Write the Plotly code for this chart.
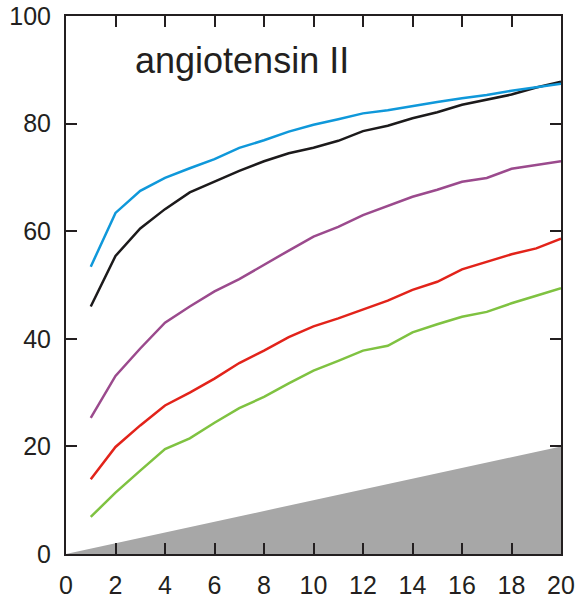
import plotly.graph_objects as go

x_vals = list(range(1, 21))
blue = [53.4, 63.4, 67.5, 69.9, 71.7, 73.4, 75.5, 76.9, 78.5, 79.8,
        80.8, 81.9, 82.5, 83.3, 84.0, 84.7, 85.3, 86.1, 86.7, 87.4]
black = [46.0, 55.4, 60.5, 64.1, 67.2, 69.2, 71.2, 73.0, 74.5, 75.5,
         76.8, 78.6, 79.6, 81.0, 82.1, 83.5, 84.4, 85.4, 86.7, 87.8]
purple = [25.3, 33.1, 38.2, 43.0, 46.0, 48.8, 51.1, 53.8, 56.4, 59.0,
          60.8, 63.0, 64.7, 66.4, 67.7, 69.2, 69.9, 71.6, 72.3, 73.0]
red = [13.9, 19.9, 23.9, 27.6, 30.0, 32.6, 35.5, 37.8, 40.3, 42.3,
       43.8, 45.5, 47.1, 49.1, 50.6, 52.9, 54.3, 55.7, 56.8, 58.6]
green = [6.9, 11.4, 15.5, 19.5, 21.5, 24.4, 27.1, 29.2, 31.7, 34.1,
         35.9, 37.8, 38.7, 41.2, 42.7, 44.1, 45.0, 46.6, 48.0, 49.4]
ref_x = [0, 20]
ref_y = [0, 20]
title_text = "angiotensin II"

ink = "#231f20"
fig = go.Figure()
fig.add_trace(go.Scatter(x=ref_x, y=ref_y, fill="tozeroy", mode="lines",
                         line=dict(width=0, color="#a7a7a7"),
                         fillcolor="#a7a7a7", showlegend=False))
series = [(green, "#7fc241"), (red, "#e2231a"), (purple, "#9b4a8d"),
          (black, "#1c1a1b"), (blue, "#0f98da")]
for ys, col in series:
    fig.add_trace(go.Scatter(x=x_vals, y=ys, mode="lines",
                             line=dict(color=col, width=2.5),
                             showlegend=False))

axis_common = dict(showline=True, linewidth=2, linecolor=ink, mirror="ticks",
                   ticks="inside", ticklen=11, tickwidth=2, tickcolor=ink,
                   showgrid=False, zeroline=False, automargin=False,
                   ticklabeloverflow="allow",
                   tickfont=dict(family="Liberation Sans, Arial", size=25, color=ink))
fig.update_xaxes(range=[0, 20], dtick=2, tick0=0, ticklabelstandoff=8, **axis_common)
fig.update_yaxes(range=[0, 100], dtick=20, tick0=0, ticklabelstandoff=8, **axis_common)

fig.add_annotation(x=2.7, y=87.5, xref="x", yref="y", text=title_text,
                   showarrow=False, xanchor="left", yanchor="bottom",
                   font=dict(family="Liberation Sans, Arial", size=36, color=ink))

fig.update_layout(width=584, height=600, margin=dict(l=66, r=23, t=16, b=46),
                  plot_bgcolor="white", paper_bgcolor="white")
fig.write_html("out.html", config={"displayModeBar": False},
               post_script="document.body.style.margin='0';document.body.style.overflow='hidden';")
